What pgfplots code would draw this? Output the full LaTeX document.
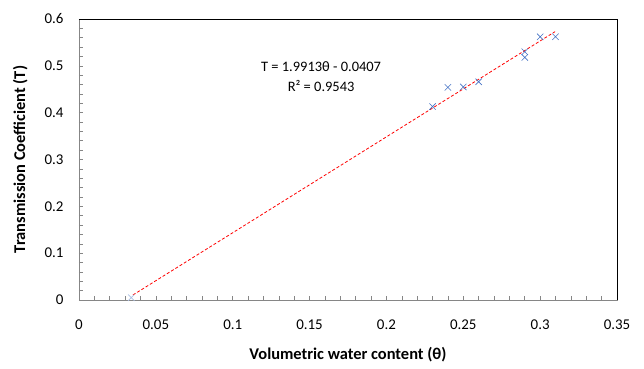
\documentclass[border=0pt]{standalone}
\usepackage{pgfplots}
\pgfplotsset{compat=1.18}
\usepackage{fontspec}
\setmainfont{Carlito}
\definecolor{mblue}{HTML}{4472C4}
\definecolor{axgray}{HTML}{868686}
\begin{document}
\begin{tikzpicture}
\begin{axis}[
  scale only axis, width=538bp, height=281bp,
  xmin=0, xmax=0.35, ymin=0, ymax=0.6,
  xtick={0,0.05,...,0.35}, ytick={0,0.1,...,0.6},
  xticklabels={0,0.05,0.1,0.15,0.2,0.25,0.3,0.35},
  yticklabels={0,0.1,0.2,0.3,0.4,0.5,0.6},
  minor tick num=4,
  tick align=inside, xtick pos=bottom, ytick pos=left,
  major tick length=4bp, minor tick length=4bp,
  tick style={axgray, line width=0.6pt},
  axis line style={axgray, line width=0.8pt},
  ticklabel style={font=\fontsize{15}{17}\selectfont, text=black},
  xticklabel style={yshift=-16bp},
  yticklabel style={xshift=-12bp},
  xlabel={\textbf{Volumetric water content (θ)}},
  ylabel={\textbf{Transmission Coefficient (T)}},
  label style={font=\fontsize{16.5}{19}\selectfont},
  xlabel style={yshift=-11bp},
  ylabel style={yshift=10bp},
  clip=false,
]
\addplot[red, dashed, dash pattern=on 3bp off 2bp, line width=0.8pt] coordinates {(0.0351,0.0107) (0.3097,0.573)};
\addplot[only marks, mark=x, mark size=4.5bp, mblue!45, line width=0.6pt] coordinates {(0.034,0.005)};
\addplot[only marks, mark=x, mark size=4.5bp, mblue, line width=0.6pt] coordinates {
(0.23,0.413) (0.24,0.454) (0.25,0.455) (0.26,0.466) (0.29,0.530) (0.29,0.518) (0.30,0.562) (0.31,0.562)};
\draw[black, line width=0.8pt] (rel axis cs:0,1) -- (rel axis cs:1,1) -- (rel axis cs:1,0);
\node[font=\fontsize{14.5}{20}\selectfont, align=center] at (axis cs:0.1575,0.4765) {T = 1.9913θ - 0.0407\\R² = 0.9543};
\coordinate (o) at (rel axis cs:0,0);
\end{axis}
\useasboundingbox (o) ++(-79bp,-69bp) rectangle ++(644bp,369bp);
\end{tikzpicture}
\end{document}
